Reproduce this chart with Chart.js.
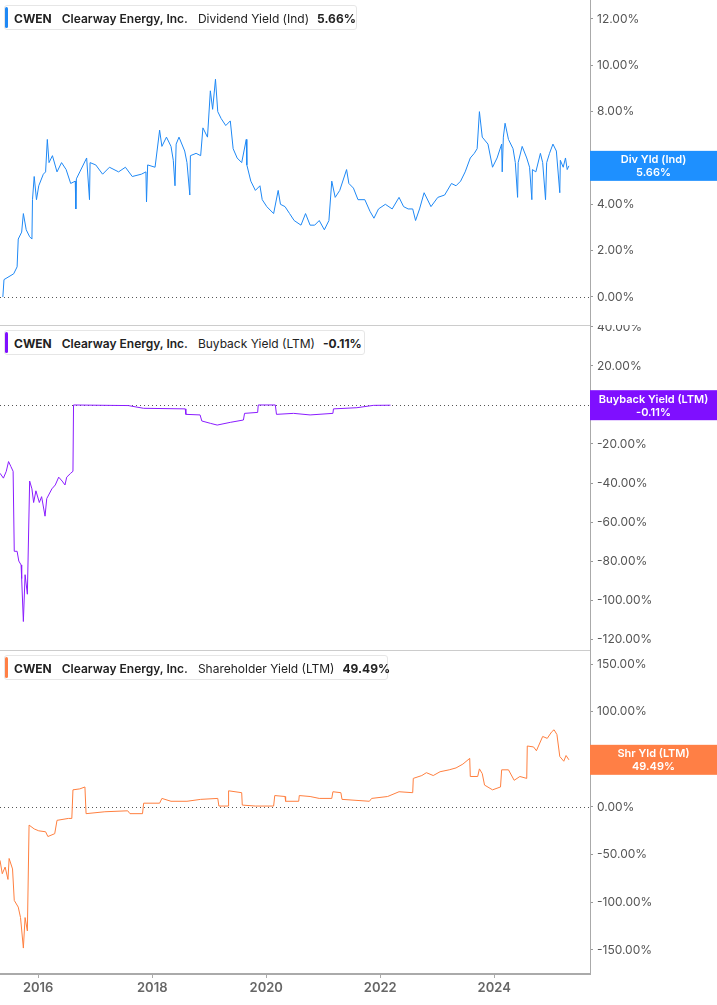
<!DOCTYPE html>
<html>
<head>
<meta charset="utf-8">
<script src="https://cdn.jsdelivr.net/npm/chart.js@4"></script>
<style>
body { margin:0; background:#fff; font-family: Inter, "Noto Sans", sans-serif; }
#wrap { position:relative; width:717px; height:1005px; }
canvas { position:absolute; left:0; }
.legend { position:absolute; left:4px; height:25px; background:#fff; border:1px solid #e6e6e6; border-radius:3px;
  font-size:12px; color:#222; line-height:25px; padding-left:9px; padding-right:10px; white-space:nowrap; box-sizing:border-box; }
.legend .bar { position:absolute; left:0; top:1px; bottom:1px; width:3px; border-radius:2px; }
.legend b { font-weight:700; }
.legend .co { font-weight:600; margin-left:10px; }
.legend .me { margin-left:10px; }
.legend .va { font-weight:700; margin-left:8px; }
.sep { position:absolute; left:0; width:590px; height:1px; background:#ccc; }
</style>
</head>
<body>
<div id="wrap">
  <canvas id="c1" width="717" height="325" style="top:0"></canvas>
  <canvas id="c2" width="717" height="325" style="top:325px"></canvas>
  <canvas id="c3" width="717" height="355" style="top:650px"></canvas>
  <div class="sep" style="top:325px"></div>
  <div class="sep" style="top:650px"></div>
  <div class="legend" style="top:5px;width:353px"><span class="bar" style="background:#1e88f5"></span><b>CWEN</b><span class="co">Clearway Energy, Inc.</span><span class="me">Dividend Yield (Ind)</span><span class="va">5.66%</span></div>
  <div class="legend" style="top:330px;width:361px"><span class="bar" style="background:#7f0fff"></span><b>CWEN</b><span class="co">Clearway Energy, Inc.</span><span class="me">Buyback Yield (LTM)</span><span class="va">-0.11%</span></div>
  <div class="legend" style="top:655px;width:384px"><span class="bar" style="background:#ff7f45"></span><b>CWEN</b><span class="co">Clearway Energy, Inc.</span><span class="me">Shareholder Yield (LTM)</span><span class="va">49.49%</span></div>
</div>
<script>
const divYears = [2015.38,2015.40,2015.57,2015.63,2015.65,2015.71,2015.74,2015.79,2015.85,2015.89,2015.90,2015.93,2015.97,2016.01,2016.09,2016.13,2016.16,2016.19,2016.25,2016.33,2016.41,2016.49,2016.57,2016.65,2016.66,2016.67,2016.73,2016.85,2016.90,2016.91,2017.01,2017.13,2017.25,2017.41,2017.53,2017.65,2017.81,2017.89,2017.90,2017.92,2018.05,2018.13,2018.17,2018.25,2018.33,2018.37,2018.40,2018.42,2018.47,2018.57,2018.61,2018.66,2018.67,2018.77,2018.85,2018.89,2018.97,2019.02,2019.06,2019.11,2019.15,2019.21,2019.29,2019.37,2019.42,2019.49,2019.57,2019.65,2019.66,2019.73,2019.81,2019.89,2019.93,2020.01,2020.13,2020.21,2020.25,2020.33,2020.41,2020.49,2020.61,2020.69,2020.77,2020.85,2020.93,2021.02,2021.10,2021.15,2021.21,2021.29,2021.41,2021.45,2021.53,2021.61,2021.73,2021.82,2021.89,2021.97,2022.09,2022.21,2022.33,2022.41,2022.49,2022.57,2022.62,2022.69,2022.77,2022.89,2023.01,2023.13,2023.25,2023.33,2023.41,2023.49,2023.58,2023.65,2023.70,2023.74,2023.79,2023.89,2023.97,2024.05,2024.13,2024.14,2024.16,2024.19,2024.25,2024.33,2024.37,2024.41,2024.42,2024.49,2024.57,2024.62,2024.66,2024.67,2024.73,2024.81,2024.85,2024.90,2024.92,2024.97,2025.03,2025.09,2025.15,2025.16,2025.21,2025.25,2025.28,2025.31];
const divValues = [0,0.75,1.0,1.3,2.5,2.8,3.6,2.9,2.6,2.5,4.2,5.2,4.2,4.8,5.3,5.4,6.8,5.8,6.1,5.4,5.8,5.5,4.9,5.0,3.8,5.1,5.4,6.0,4.2,5.8,5.7,5.3,5.6,5.4,5.6,5.2,5.3,5.4,4.1,5.7,5.6,7.2,6.5,6.9,6.5,5.9,4.8,6.6,6.9,6.3,5.8,4.4,6.1,6.2,6.1,7.3,6.9,8.9,8.1,9.4,8.0,7.7,7.4,7.6,6.4,6.0,5.8,6.8,5.7,5.0,4.6,4.8,4.2,3.9,3.6,4.6,4.0,3.9,3.6,3.3,3.1,3.6,3.1,3.1,3.3,2.9,3.3,5.0,4.3,4.6,5.5,4.9,4.7,4.2,4.2,3.7,3.4,3.8,4.0,3.8,4.3,3.9,3.8,3.8,3.3,3.8,4.5,3.9,4.3,4.4,4.9,4.8,5.0,5.4,6.0,6.2,6.4,8.0,6.9,6.6,5.6,6.0,6.6,5.4,6.9,7.5,6.8,6.4,5.8,4.3,5.8,6.5,6.0,5.6,4.2,5.5,5.4,6.2,5.8,4.2,5.8,6.2,6.6,6.3,4.5,5.9,5.6,6.0,5.5,5.66];

const bbYears = [2015.33,2015.39,2015.44,2015.48,2015.52,2015.56,2015.58,2015.63,2015.66,2015.70,2015.71,2015.74,2015.77,2015.81,2015.85,2015.89,2015.92,2015.96,2016.02,2016.06,2016.12,2016.15,2016.24,2016.30,2016.36,2016.42,2016.47,2016.50,2016.57,2016.61,2016.62,2017.58,2017.85,2018.58,2018.59,2018.84,2018.87,2019.02,2019.14,2019.37,2019.60,2019.62,2019.85,2019.86,2020.16,2020.18,2020.48,2020.77,2021.17,2021.18,2021.59,2021.88,2022.18];
const bbValues = [-35,-37.5,-34,-29,-31.5,-34,-75,-75,-80,-82,-89,-111,-87,-97,-39,-43,-50,-44,-50,-47,-57,-48,-43,-41,-37,-39,-41,-37,-35,-34,0,-0.3,-1.7,-2.0,-4.8,-5.1,-8.2,-9.4,-10.3,-8.9,-7.7,-4.3,-3.8,0,0,-4.8,-4.3,-5.1,-4.3,-2.0,-1.4,-0.2,-0.11];

const shYears = [2015.33,2015.37,2015.42,2015.47,2015.49,2015.55,2015.58,2015.65,2015.69,2015.74,2015.77,2015.81,2015.84,2015.93,2016.01,2016.13,2016.17,2016.29,2016.33,2016.53,2016.59,2016.61,2016.73,2016.82,2016.84,2017.17,2017.57,2017.61,2017.83,2017.85,2018.13,2018.17,2018.33,2018.61,2018.85,2019.15,2019.17,2019.33,2019.34,2019.57,2019.58,2019.81,2020.13,2020.15,2020.33,2020.34,2020.57,2020.58,2020.77,2020.93,2021.15,2021.17,2021.31,2021.33,2021.81,2021.85,2022.13,2022.33,2022.57,2022.58,2022.73,2022.81,2022.93,2023.05,2023.21,2023.33,2023.45,2023.57,2023.58,2023.71,2023.74,2023.79,2023.83,2023.97,2024.11,2024.13,2024.25,2024.35,2024.45,2024.57,2024.58,2024.69,2024.74,2024.85,2024.93,2025.01,2025.05,2025.10,2025.15,2025.22,2025.26,2025.31];
const shValues = [-56,-70,-63,-76,-54,-65,-98,-105,-116,-148,-116,-130,-19,-23,-25,-26,-31,-28,-14,-12,-12,18,19,21,-7,-5,-4,-7,-7,4,4,9,6,6,8,9,1,1,17,15,2,1,1,12,11,6,6,12,11,9,9,16,15,8,6,9,11,16,15,30,33,36,33,37,39,41,45,51,32,32,40,35,23,18,21,39,39,28,32,30,64,63,59,74,72,79,81,76,53,48,54,49.49];

const yearTicks = [2016,2018,2020,2022,2024];
const divTicks = [0,2,4,6,8,10,12];
const bbTicks = [40,20,0,-20,-40,-60,-80,-100,-120];
const shTicks = [150,100,50,0,-50,-100,-150];

function pts(xs, ys) { return xs.map((x, i) => ({x: x, y: ys[i]})); }

function makeChart(id, xs, ys, color, tagColor, tagName, tagVal, ymin, ymax, ticks, showX) {
  const tagPlugin = {
    id: 'tag',
    beforeDatasetsDraw(chart) {
      const ctx = chart.ctx, a = chart.chartArea, y0 = chart.scales.y.getPixelForValue(0);
      ctx.save();
      ctx.strokeStyle = '#555'; ctx.lineWidth = 1; ctx.setLineDash([1, 3]);
      ctx.beginPath(); ctx.moveTo(a.left, Math.round(y0) + 0.5); ctx.lineTo(a.right, Math.round(y0) + 0.5); ctx.stroke();
      ctx.restore();
    },
    afterDraw(chart) {
      const ctx = chart.ctx, a = chart.chartArea;
      const yv = chart.scales.y.getPixelForValue(ys[ys.length - 1]);
      ctx.save();
      ctx.fillStyle = tagColor;
      ctx.fillRect(a.right, yv - 15, chart.width - a.right, 30);
      ctx.fillStyle = '#fff';
      ctx.font = '600 11px Inter, sans-serif';
      ctx.textAlign = 'center'; ctx.textBaseline = 'middle';
      const cx = (a.right + chart.width) / 2;
      ctx.fillText(tagName, cx, yv - 6);
      ctx.fillText(tagVal, cx, yv + 7);
      ctx.restore();
    }
  };
  return new Chart(document.getElementById(id), {
    type: 'line',
    data: { datasets: [{ data: pts(xs, ys), borderColor: color, borderWidth: 1, pointRadius: 0, tension: 0 }] },
    options: {
      responsive: false, animation: false,
      layout: { padding: 0 },
      plugins: { legend: { display: false }, tooltip: { enabled: false } },
      scales: {
        x: {
          type: 'linear', min: 2015.33, max: 2025.68, display: showX,
          afterBuildTicks: s => { s.ticks = yearTicks.map(v => ({value: v})); },
          afterFit: s => { s.height = showX ? 31 : 0; s.paddingLeft = 0; s.paddingRight = 0; },
          grid: { drawOnChartArea: false, tickLength: 4, color: '#aaa' },
          border: { color: '#aaa', width: 2 },
          ticks: { color: '#666', font: { family: 'Inter', size: 13, weight: '600' }, padding: 2, maxRotation: 0,
                   callback: v => String(v) }
        },
        y: {
          position: 'right', min: ymin, max: ymax,
          afterBuildTicks: s => { s.ticks = ticks.map(v => ({value: v})); },
          afterFit: s => { s.width = 127; s.paddingTop = 0; s.paddingBottom = 0; },
          grid: { drawOnChartArea: false, tickLength: 3, color: '#999' },
          border: { color: '#aaa' },
          ticks: { color: '#555', font: { family: 'Inter', size: 12 }, padding: 4,
                   callback: v => v.toFixed(2) + '%' }
        }
      }
    },
    plugins: [tagPlugin]
  });
}

makeChart('c1', divYears, divValues, '#1e88f5', '#1e90ff', 'Div Yld (Ind)', '5.66%', -1.21, 12.82, divTicks, false);
makeChart('c2', bbYears, bbValues, '#8a1cff', '#7f0fff', 'Buyback Yield (LTM)', '-0.11%', -125.6, 41, bbTicks, false);
makeChart('c3', shYears, shValues, '#ff7f3f', '#ff7f45', 'Shr Yld (LTM)', '49.49%', -175.2, 164.7, shTicks, true);
</script>
</body>
</html>
